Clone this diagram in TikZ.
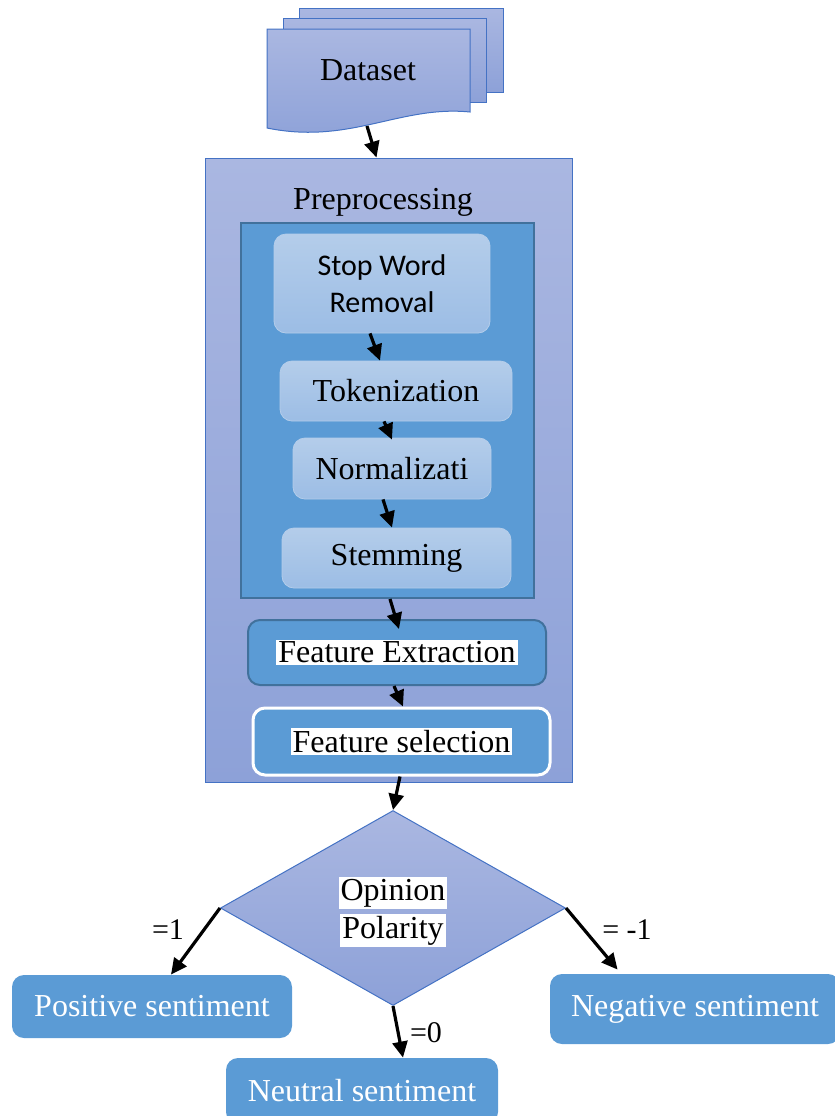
\documentclass[tikz,border=0pt]{standalone}
\usepackage{fontspec}
\setmainfont{Liberation Serif}
\newfontfamily\calfont{Carlito}
\usetikzlibrary{shapes.geometric,arrows.meta}
\setlength{\fboxsep}{1pt}
\newcommand{\tf}{\fontsize{16}{19}\selectfont}
\newcommand{\lblf}{\fontsize{15}{18}\selectfont}

\definecolor{sheettop}{RGB}{170,183,225}
\definecolor{sheetbot}{RGB}{141,161,216}
\definecolor{sheetline}{RGB}{68,114,196}
\definecolor{midblue}{RGB}{91,155,213}
\definecolor{darkline}{RGB}{65,113,156}
\definecolor{pilltop}{RGB}{180,205,234}
\definecolor{pillbot}{RGB}{156,189,229}

\tikzset{
  sheet/.style={draw=sheetline, top color=sheettop, bottom color=sheetbot, line width=0.5pt},
  pill/.style={rounded corners=6pt, top color=pilltop, bottom color=pillbot, draw=pilltop, inner sep=0pt},
  bluebox/.style={rounded corners=6pt, fill=midblue, inner sep=0pt},
  outbox/.style={bluebox, text=white, font=\fontsize{16}{19}\selectfont},
  arr/.style={-{Triangle[length=8pt,width=7.5pt]}, line width=1.6pt},
}

\begin{document}
\begin{tikzpicture}[x=0.5pt, y=-0.5pt, font=\tf]
    \useasboundingbox (0,0) rectangle (835,1116);

    % dataset sheets
    \draw[sheet] (299,8) rectangle (503,92);
    \draw[sheet] (283,18) rectangle (486,102);
    \draw[sheet] (267,29) -- (470,29) -- (470,112)
        .. controls (400,105) and (350,145) .. (267,128) -- cycle;
    \node (data) at (368,70) {Dataset};
    \coordinate (dsout) at (367,126);

    % preprocessing block
    \node[sheet, minimum width=183.5pt, minimum height=312pt, inner sep=0pt] (prep) at (388.5,470) {};
    \node (preplbl) at (383,202) {Preprocessing};
    \node[draw=darkline, line width=1pt, fill=midblue, minimum width=146.5pt, minimum height=187.5pt] (inner) at (387.5,410.5) {};

    % steps
    \node[pill, minimum width=108pt, minimum height=49.5pt, align=center,
          font=\calfont\fontsize{15}{18.5}\selectfont] (swr) at (382,283.5) {Stop Word\\Removal};
    \node[pill, minimum width=116pt, minimum height=30pt] (tok) at (396,391) {Tokenization};
    \node[pill, minimum width=99pt, minimum height=30.5pt] (norm) at (392,468.5) {Normalizati};
    \node[pill, minimum width=114.5pt, minimum height=30pt] (stem) at (396.5,558) {Stemming};

    % features
    \node[bluebox, draw=darkline, line width=1pt, minimum width=149pt, minimum height=32.5pt] (fe)
        at (397,652.5) {\colorbox{white}{Feature Extraction}};
    \node[bluebox, draw=white, line width=1.5pt, minimum width=148.5pt, minimum height=33.5pt] (fs)
        at (401.5,741.5) {\colorbox{white}{Feature selection}};

    % polarity
    \node[diamond, sheet, minimum width=172.5pt, minimum height=97.5pt, inner sep=0pt] (pol) at (393,908) {};
    \node[align=center, inner sep=0pt] (poltxt) at (393,912) {\colorbox{white}{Opinion}\\\colorbox{white}{Polarity}};

    % results
    \node[outbox, minimum width=140pt, minimum height=31.5pt] (pos) at (152,1006.5) {Positive sentiment};
    \node[outbox, minimum width=136pt, minimum height=33pt] (neu) at (362,1091) {Neutral sentiment};
    \node[outbox, minimum width=145pt, minimum height=35pt] (neg) at (695,1009) {Negative sentiment};

    % arrows
    \draw[arr] (dsout) -- ([xshift=-6pt]prep.north);
    \draw[arr] ([xshift=-6pt]swr.south) -- ([xshift=-8pt]tok.north);
    \draw[arr] ([xshift=-6pt]tok.south) -- ([yshift=-1pt]norm.north);
    \draw[arr] ([xshift=-4.5pt]norm.south) -- ([xshift=-2.25pt]stem.north);
    \draw[arr] ([xshift=1.25pt]inner.south) -- ([xshift=1pt,yshift=-5pt]fe.north);
    \draw[arr] ([xshift=-1.5pt]fe.south) -- ([xshift=0.75pt]fs.north);
    \draw[arr] ([xshift=-0.75pt]fs.south) -- (pol.north);
    \draw[arr] (pol.west) -- ([xshift=9.5pt]pos.north);
    \draw[arr] (pol.east) -- ([xshift=34pt,yshift=2pt]neg.north west);
    \draw[arr] (pol.south) -- ([xshift=20.5pt]neu.north);

    % labels
    \node[font=\lblf] (lpos) at (168,930) {=1};
    \node[font=\lblf] (lneg) at (627,930) {= -1};
    \node[font=\lblf] (lneu) at (426,1033) {=0};
\end{tikzpicture}
\end{document}
